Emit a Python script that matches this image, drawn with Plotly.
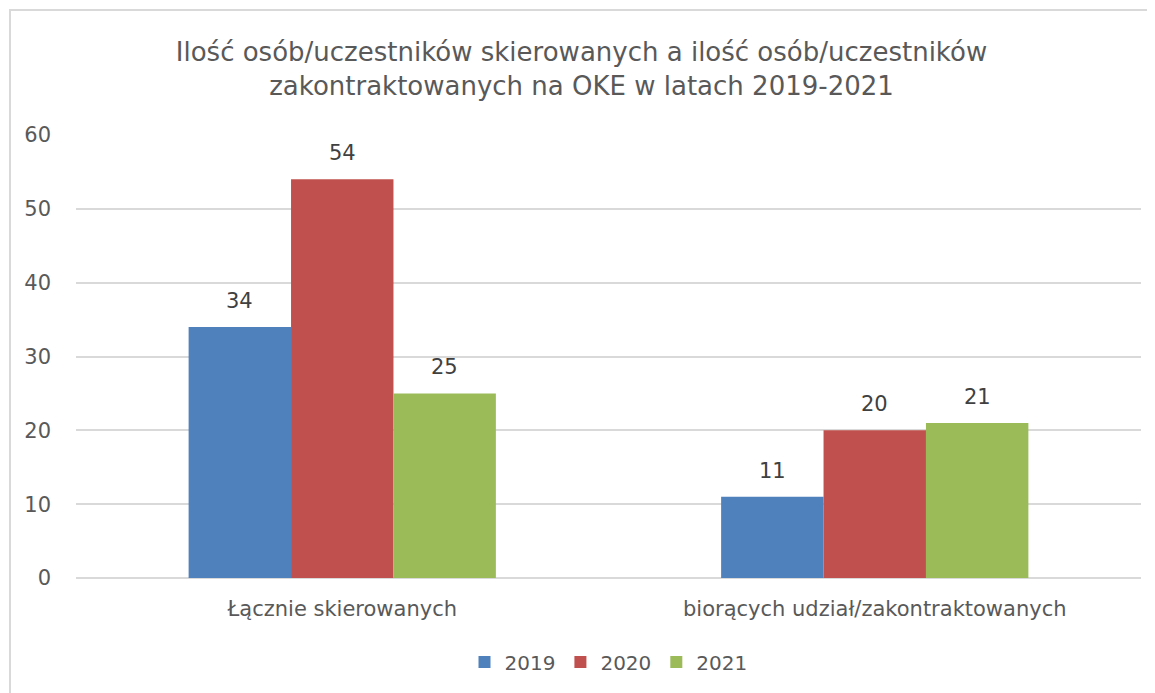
import plotly.graph_objects as go

categories = ["Łącznie skierowanych", "biorących udział/zakontraktowanych"]
years = ["2019", "2020", "2021"]
values_2019 = [34, 11]
values_2020 = [54, 20]
values_2021 = [25, 21]
colors = ["#4F81BD", "#C0504D", "#9BBB59"]

series = [values_2019, values_2020, values_2021]
font_family = "Tahoma, DejaVu Sans, sans-serif"

# figure sits inside an 8px page margin
W, H = 1147, 685
L, R, T, B = 68, 14, 127, 115
pw = W - L - R
ph = H - T - B
bargap = 0.423
bar_px = pw / len(categories) * (1 - bargap) / len(series)

fig = go.Figure()
annotations = []
for i, (name, vals, col) in enumerate(zip(years, series, colors)):
    fig.add_trace(go.Bar(
        x=categories, y=vals, name=name, marker_color=col,
        marker_line_width=0,
    ))
    for cat, v in zip(categories, vals):
        annotations.append(dict(
            x=cat, y=v, xref="x", yref="y", text=str(v), showarrow=False,
            xshift=(i - 1) * bar_px, yshift=26, yanchor="middle", xanchor="center",
            font=dict(size=21, color="#404040", family=font_family),
        ))

fig.update_layout(
    width=W, height=H,
    margin=dict(l=L, r=R, t=T, b=B),
    paper_bgcolor="white", plot_bgcolor="white",
    barmode="group", bargap=bargap, bargroupgap=0,
    font=dict(family=font_family, color="#595959", size=21),
    title=dict(
        text="Ilość osób/uczestników skierowanych a ilość osób/uczestników<br>zakontraktowanych na OKE w latach 2019-2021",
        x=0.5, xanchor="center", y=1 - 53 / H, yanchor="top",
        font=dict(size=26, color="#595959", family=font_family),
    ),
    xaxis=dict(showgrid=False, showline=False, ticks="", ticklabelstandoff=16,
               tickfont=dict(size=21, color="#595959")),
    yaxis=dict(range=[0, 60], dtick=10, showgrid=True, gridcolor="#D9D9D9", gridwidth=2,
               zeroline=True, zerolinecolor="#D9D9D9", zerolinewidth=2, automargin=False,
               tickfont=dict(size=21, color="#595959"), ticks="", ticklabelstandoff=24),
    legend=dict(orientation="h", x=0.5, xanchor="center", y=-(662 - 578) / ph, yanchor="middle",
                font=dict(size=20, color="#595959"), itemwidth=30, traceorder="normal"),
    showlegend=True,
    annotations=annotations,
    shapes=[dict(type="rect", xref="paper", yref="paper",
                 x0=(2 - L) / pw, x1=(W + 20 - L) / pw,
                 y0=-(B + 20) / ph, y1=(H - B - 2) / ph,
                 line=dict(color="#D9D9D9", width=2), fillcolor="rgba(0,0,0,0)", layer="below")],
)

fig.write_html("out.html")
